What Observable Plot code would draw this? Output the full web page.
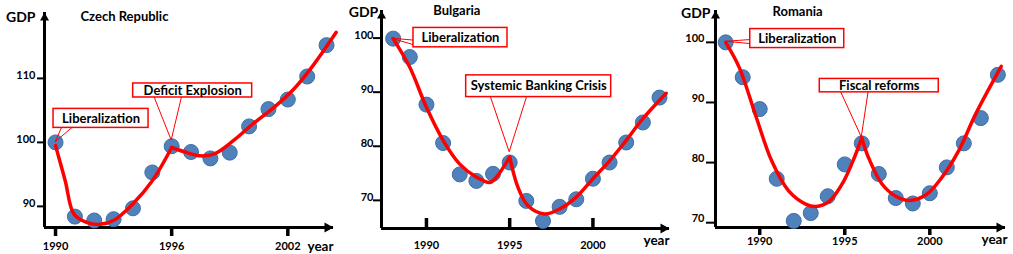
<!DOCTYPE html>
<html><head><meta charset="utf-8">
<script src="https://cdn.jsdelivr.net/npm/d3@7"></script>
<script src="https://cdn.jsdelivr.net/npm/@observablehq/plot@0.6"></script>
<style>
body{margin:0;background:#fff}
#chart{position:relative;width:1013px;height:254px;overflow:hidden}
#chart svg{position:absolute;top:0}
svg text{font-family:Lato,"Open Sans",sans-serif;font-weight:700}
</style></head>
<body><div id="chart"></div>
<script>
// ---------- Czech Republic ----------
const czYears = [1990,1991,1992,1993,1994,1995,1996,1997,1998,1999,2000,2001,2002,2003,2004];
const czGDP   = [100,88.4,87.8,88.0,89.7,95.3,99.4,98.5,97.5,98.4,102.5,105.2,106.7,110.3,115.2];
const czFitYears = [1990,1990.5,1990.95,1991.6,1992.3,1993.0,1994.0,1995.0,1996.0, 1996.0,1996.8,1997.5,1998.2,1999.2,2000.2,2001.3,2002.3,2003.3,2004.5];
const czFitGDP   = [99.5,94.0,88.8,87.5,87.2,87.8,90.4,94.0,99.2, 99.2,98.4,97.9,98.2,100.3,102.9,105.5,108.3,112.0,117.2];
const czFitSeg   = [0,0,0,0,0,0,0,0,0, 1,1,1,1,1,1,1,1,1,1];
const czXTicks = [1990,1996,2002];
const czYTicks = [90,100,110];
const czAnnLabels = ["Liberalization","Deficit Explosion"];
const czAnnYears  = [1990,1996];
const czAnnValues = [100,100.3];

// ---------- Bulgaria ----------
const bgYears = [1988,1989,1990,1991,1992,1993,1994,1995,1996,1997,1998,1999,2000,2001,2002,2003,2004];
const bgGDP   = [99.9,96.5,87.7,80.6,74.8,73.6,74.9,77.0,69.9,66.2,68.8,70.2,74.0,77.0,80.7,84.4,89.0];
const bgFitYears = [1988,1989,1990,1991,1992,1993,1993.8,1994.2,1995, 1995,1995.5,1996.1,1997.1,1998,1999,2000,2001,2002,2003,2004.4];
const bgFitGDP   = [99.9,94.6,87.2,81.1,76.7,74.3,73.3,74.3,78.0, 78.0,72.4,69.0,67.5,68.4,70.6,74.0,77.3,81.1,85.1,89.8];
const bgFitSeg   = [0,0,0,0,0,0,0,0,0, 1,1,1,1,1,1,1,1,1,1,1];
const bgXTicks = [1990,1995,2000];
const bgYTicks = [70,80,90,100];
const bgAnnLabels = ["Liberalization","Systemic Banking Crisis"];
const bgAnnYears  = [1987.9,1995];
const bgAnnValues = [99.9,78.9];

// ---------- Romania ----------
const roYears = [1988,1989,1990,1991,1992,1993,1994,1995,1996,1997,1998,1999,2000,2001,2002,2003,2004];
const roGDP   = [100,94.2,88.9,77.3,70.3,71.6,74.4,79.7,83.2,78.1,74.1,73.2,74.9,79.2,83.2,87.4,94.6];
const roFitYears = [1988,1988.8,1989.8,1990.7,1991.7,1992.7,1993.3,1994.1,1994.9,1995.6,1996, 1996,1996.4,1997.2,1998,1998.8,1999.8,2000.7,2001.7,2002.7,2004.2];
const roFitGDP   = [100,95.8,87.5,80.3,75.3,73.1,72.7,73.6,76.7,81.1,84.1, 84.1,80.8,76.4,74.4,73.7,74.7,77.5,82.0,88.1,96.0];
const roFitSeg   = [0,0,0,0,0,0,0,0,0,0,0, 1,1,1,1,1,1,1,1,1,1];
const roXTicks = [1990,1995,2000];
const roYTicks = [70,80,90,100];
const roAnnLabels = ["Liberalization","Fiscal reforms"];
const roAnnYears  = [1988.05,1996];
const roAnnValues = [100.1,84.2];

// ---------- layout / style ----------
const upArrow = {draw(ctx){ctx.moveTo(0,0);ctx.lineTo(4.5,8);ctx.lineTo(-4.5,8);ctx.closePath();}};
const rightArrow = {draw(ctx){ctx.moveTo(0,0);ctx.lineTo(-9,-5);ctx.lineTo(-9,5);ctx.closePath();}};

const panels = [
  {title:"Czech Republic", left:0, width:338, mt:12, mb:27, ml:44, mr:5,
   xDomain:[1989.43,2004.36], yDomain:[86.7,120.3],
   years:czYears, gdp:czGDP, fitYears:czFitYears, fitGDP:czFitGDP, fitSeg:czFitSeg,
   xTicks:czXTicks, yTicks:czYTicks, xTickUp:false, xTickSize:9, yTickSize:7, yPad:9, yDy:-3, xPad:15,
   titleD:[36,4], gdpD:[-9,4.7], yearD:[0,19],
   ann:{labels:czAnnLabels, years:czAnnYears, values:czAnnValues,
        box:[{dx:45.5,dy:-24,w:95,h:19,side:"bottom",f1:.09,f2:.2},
             {dx:21,dy:-50,w:119,h:14,side:"bottom",f1:.18,f2:.41}]}},
  {title:"Bulgaria", left:338, width:337, mt:10, mb:26, ml:43, mr:6,
   xDomain:[1987.3,2004.6], yDomain:[64.8,105.1],
   years:bgYears, gdp:bgGDP, fitYears:bgFitYears, fitGDP:bgFitGDP, fitSeg:bgFitSeg,
   xTicks:bgXTicks, yTicks:bgYTicks, xTickUp:true, xTickSize:10, yTickSize:8, yPad:8, yDy:-2.7, xPad:13,
   titleD:[51.7,0.7], gdpD:[-3.3,2], yearD:[0,12],
   ann:{labels:bgAnnLabels, years:bgAnnYears, values:bgAnnValues,
        box:[{dx:69,dy:-1,w:94,h:19.4,side:"left",f1:.65,f2:.88},
             {dx:29,dy:-66,w:145,h:21.7,side:"bottom",f1:.17,f2:.42}]}},
  {title:"Romania", left:675, width:338, mt:10, mb:27, ml:40, mr:8,
   xDomain:[1987.4,2004.45], yDomain:[69.2,105.3],
   years:roYears, gdp:roGDP, fitYears:roFitYears, fitGDP:roFitGDP, fitSeg:roFitSeg,
   xTicks:roXTicks, yTicks:roYTicks, xTickUp:false, xTickSize:8, yTickSize:9, yPad:11, yDy:-4, xPad:10,
   titleD:[57,1.7], gdpD:[-5,3], yearD:[2,12.5],
   ann:{labels:roAnnLabels, years:roAnnYears, values:roAnnValues,
        box:[{dx:70.7,dy:-3.2,w:94,h:19,side:"left",f1:.58,f2:.79},
             {dx:17.5,dy:-51.7,w:119,h:13.4,side:"bottom",f1:.18,f2:.41}]}}
];

const NS = "http://www.w3.org/2000/svg";
const container = document.getElementById("chart");

for (const c of panels) {
  const H = 254;
  const frameH = H - c.mt - c.mb;
  const [x0,x1] = c.xDomain, [y0,y1] = c.yDomain;
  const pts = c.years.map((y,i)=>({year:y, gdp:c.gdp[i]}));
  const fit = c.fitYears.map((y,i)=>({year:y, gdp:c.fitGDP[i], seg:c.fitSeg[i]}));
  const anns = c.ann.labels.map((l,i)=>({label:l, year:c.ann.years[i], value:c.ann.values[i], ...c.ann.box[i]}));

  const marks = [
    Plot.axisY(c.yTicks, {tickSize:c.yTickSize, strokeWidth:2, tickFormat:()=>"", label:null}),
    Plot.axisY(c.yTicks, {tickSize:0, tickPadding:c.yPad, dy:c.yDy, fontSize:11, fontWeight:"bold", tickFormat:d=>String(d), label:null}),
    c.xTickUp
      ? Plot.ruleX(c.xTicks, {insetTop: frameH - c.xTickSize, strokeWidth:3.5})
      : Plot.axisX(c.xTicks, {tickSize:c.xTickSize, strokeWidth:3.5, tickFormat:()=>"", label:null}),
    Plot.axisX(c.xTicks, {tickSize:0, tickPadding:c.xPad, fontSize:11, fontWeight:"bold", tickFormat:d=>String(d), label:null}),
    Plot.ruleX([x0], {strokeWidth:3}),
    Plot.ruleY([y0], {strokeWidth:3}),
    Plot.dot([[x0,y1]], {x:d=>d[0], y:d=>d[1], symbol:upArrow, r:5, fill:"black", stroke:"none"}),
    Plot.dot([[x1,y0]], {x:d=>d[0], y:d=>d[1], symbol:rightArrow, r:5, fill:"black", stroke:"none"}),
    Plot.dot(pts, {x:"year", y:"gdp", r:7.5, fill:"#4f81bd", stroke:"#3f6fa2", strokeWidth:1}),
    Plot.line(fit, {x:"year", y:"gdp", z:"seg", curve:"catmull-rom", stroke:"#ff0000", strokeWidth:3.5}),
    Plot.text([c.title], {frameAnchor:"top-left", textAnchor:"start", lineAnchor:"middle", dx:c.titleD[0], dy:c.titleD[1], fontSize:13, fill:"black"}),
    Plot.text(["GDP"], {frameAnchor:"top-left", textAnchor:"end", lineAnchor:"middle", dx:c.gdpD[0], dy:c.gdpD[1], fontSize:14, fill:"black"}),
    Plot.text(["year"], {frameAnchor:"bottom-right", textAnchor:"end", lineAnchor:"middle", dx:c.yearD[0], dy:c.yearD[1], fontSize:13.5, fill:"black"}),
    ...anns.map(a => Plot.text([a], {x:"year", y:"value", text:"label", dx:a.dx, dy:a.dy, textAnchor:"middle", lineAnchor:"middle", fontSize:13, fill:"black"}))
  ];

  const svg = Plot.plot({
    width:c.width, height:H,
    marginTop:c.mt, marginBottom:c.mb, marginLeft:c.ml, marginRight:c.mr,
    x:{domain:c.xDomain, label:null},
    y:{domain:c.yDomain, label:null},
    style:{background:"transparent", overflow:"visible", fontFamily:"Lato"},
    marks
  });
  svg.style.left = c.left + "px";
  container.appendChild(svg);

  // callout boxes and wedges, positioned through the plot's own scales
  const sx = svg.scale("x"), sy = svg.scale("y");
  const g = document.createElementNS(NS, "g");
  for (const a of anns) {
    const px = sx.apply(a.year), py = sy.apply(a.value);
    const cx = px + a.dx, cy = py + a.dy;
    const bx = cx - a.w/2, by = cy - a.h/2;
    let p1, p2;
    if (a.side === "bottom") { p1 = [bx + a.f1*a.w, by + a.h]; p2 = [bx + a.f2*a.w, by + a.h]; }
    else { p1 = [bx, by + a.f1*a.h]; p2 = [bx, by + a.f2*a.h]; }
    const wedge = document.createElementNS(NS, "polyline");
    wedge.setAttribute("points", `${p1[0]},${p1[1]} ${px},${py} ${p2[0]},${p2[1]}`);
    wedge.setAttribute("fill", "none");
    wedge.setAttribute("stroke", "#ff0000");
    wedge.setAttribute("stroke-width", "1");
    g.appendChild(wedge);
    const rect = document.createElementNS(NS, "rect");
    rect.setAttribute("x", bx); rect.setAttribute("y", by);
    rect.setAttribute("width", a.w); rect.setAttribute("height", a.h);
    rect.setAttribute("fill", "white");
    rect.setAttribute("stroke", "#ff0000");
    rect.setAttribute("stroke-width", "1.5");
    g.appendChild(rect);
  }
  svg.appendChild(g);
  // bring the annotation labels back on top of their boxes
  const labels = new Set(c.ann.labels);
  const textGroups = new Set();
  for (const t of svg.querySelectorAll("text")) {
    if (labels.has(t.textContent) && t.parentNode !== svg) textGroups.add(t.parentNode);
  }
  for (const tg of textGroups) svg.appendChild(tg);
}
</script>
</body></html>
